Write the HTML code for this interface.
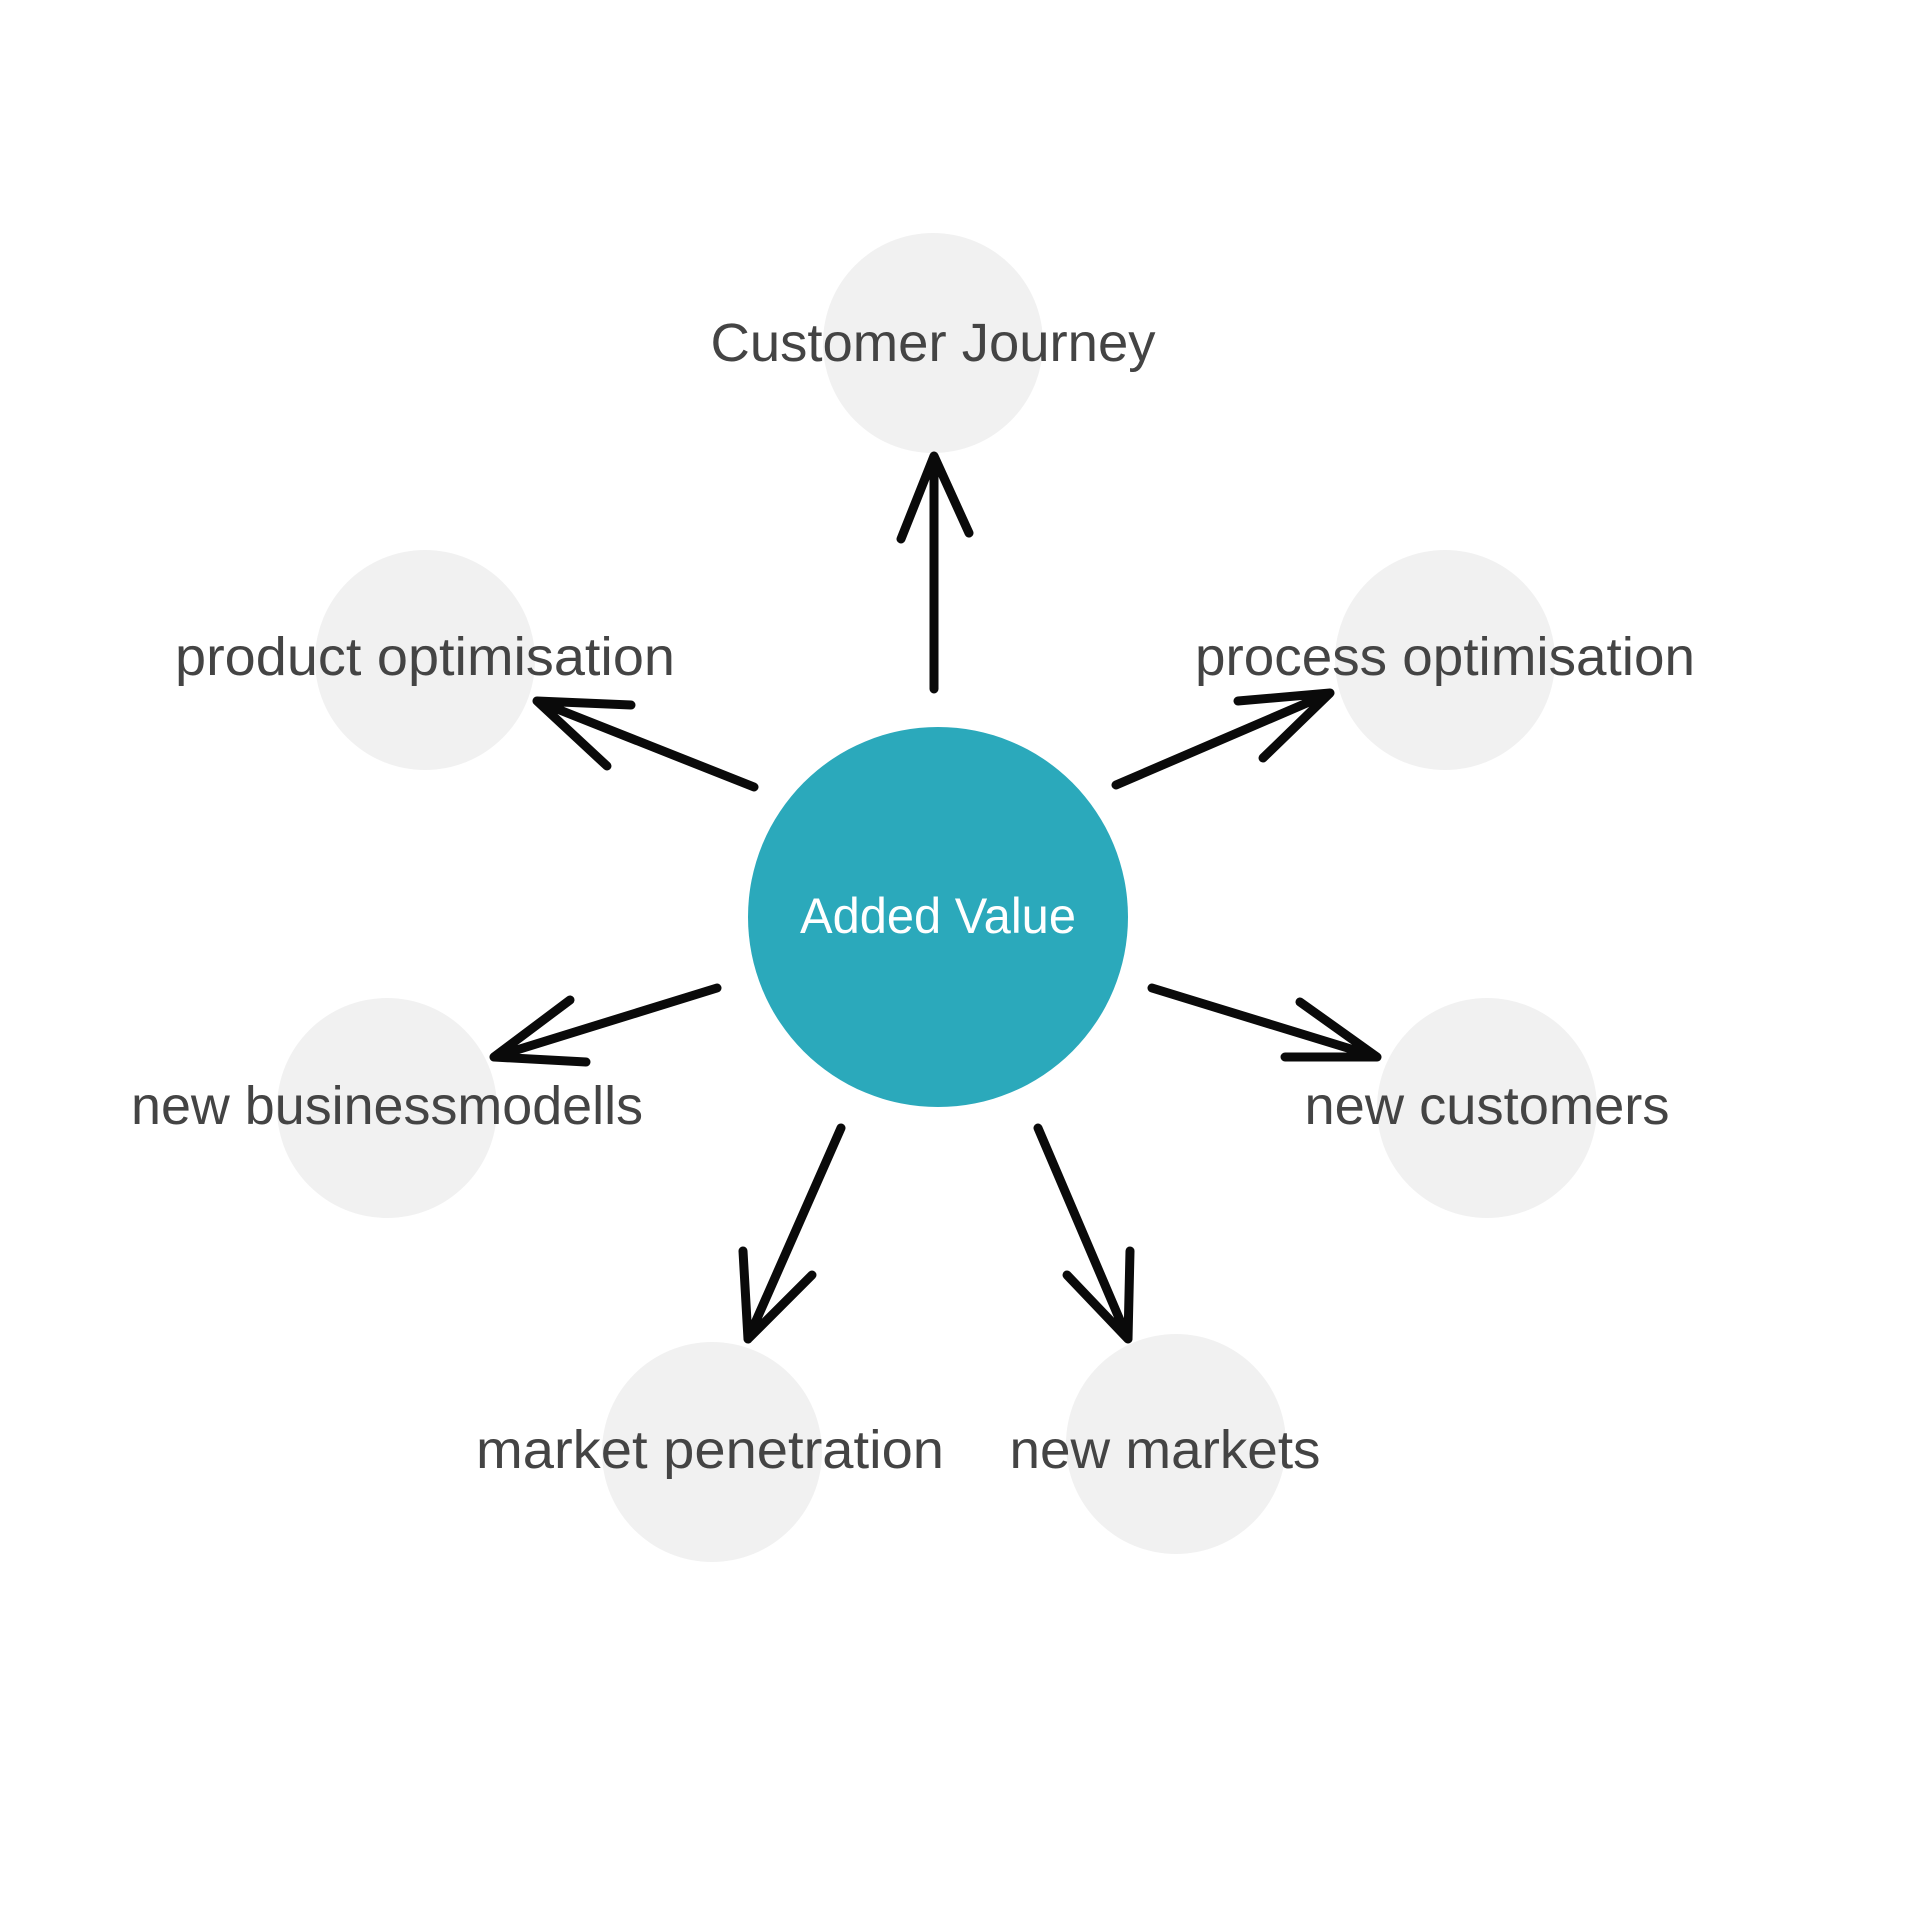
<!DOCTYPE html>
<html><head><meta charset="utf-8"><style>html,body{margin:0;padding:0;background:#fff}svg{display:block}</style></head>
<body>
<svg width="1920" height="1920" viewBox="0 0 1920 1920" xmlns="http://www.w3.org/2000/svg">
<g fill="#f1f1f1">
<circle cx="933" cy="343" r="110"/>
<circle cx="425" cy="660" r="110"/>
<circle cx="1445" cy="660" r="110"/>
<circle cx="387" cy="1108" r="110"/>
<circle cx="1487" cy="1108" r="110"/>
<circle cx="712" cy="1452" r="110"/>
<circle cx="1176" cy="1444" r="110"/>
</g>
<circle cx="938" cy="917" r="190" fill="#2ba9bb"/>
<g stroke="#0a0a0a" stroke-width="9" stroke-linecap="round" stroke-linejoin="round" fill="none">
<path d="M934 689 L934 456 M901 539 L934 456 L969 533"/>
<path d="M754 787 L537 701 M631 705 L537 701 L607 766"/>
<path d="M1116 785 L1330 693 M1238 701 L1330 693 L1263 758"/>
<path d="M717 988 L494 1057 M570 1000 L494 1057 L586 1062"/>
<path d="M1152 988 L1377 1057 M1300 1002 L1377 1057 L1285 1057"/>
<path d="M841 1128 L748 1339 M743 1251 L748 1339 L812 1275"/>
<path d="M1038 1128 L1128 1339 M1067 1275 L1128 1339 L1130 1251"/>
</g>
<g font-family="Liberation Sans, sans-serif" font-size="54" fill="#444" text-anchor="middle" lengthAdjust="spacingAndGlyphs">
<text x="933" y="361" textLength="445" lengthAdjust="spacingAndGlyphs">Customer Journey</text>
<text x="425" y="675" textLength="500" lengthAdjust="spacingAndGlyphs">product optimisation</text>
<text x="1445" y="675" textLength="500" lengthAdjust="spacingAndGlyphs">process optimisation</text>
<text x="387" y="1124" textLength="512" lengthAdjust="spacingAndGlyphs">new businessmodells</text>
<text x="1487" y="1124" textLength="365" lengthAdjust="spacingAndGlyphs">new customers</text>
<text x="710" y="1468" textLength="468" lengthAdjust="spacingAndGlyphs">market penetration</text>
<text x="1165" y="1468" textLength="311" lengthAdjust="spacingAndGlyphs">new markets</text>
</g>
<text x="938" y="933" font-family="Liberation Sans, sans-serif" font-size="50" fill="#fff" text-anchor="middle" textLength="276" lengthAdjust="spacingAndGlyphs">Added Value</text>
</svg>
</body></html>
